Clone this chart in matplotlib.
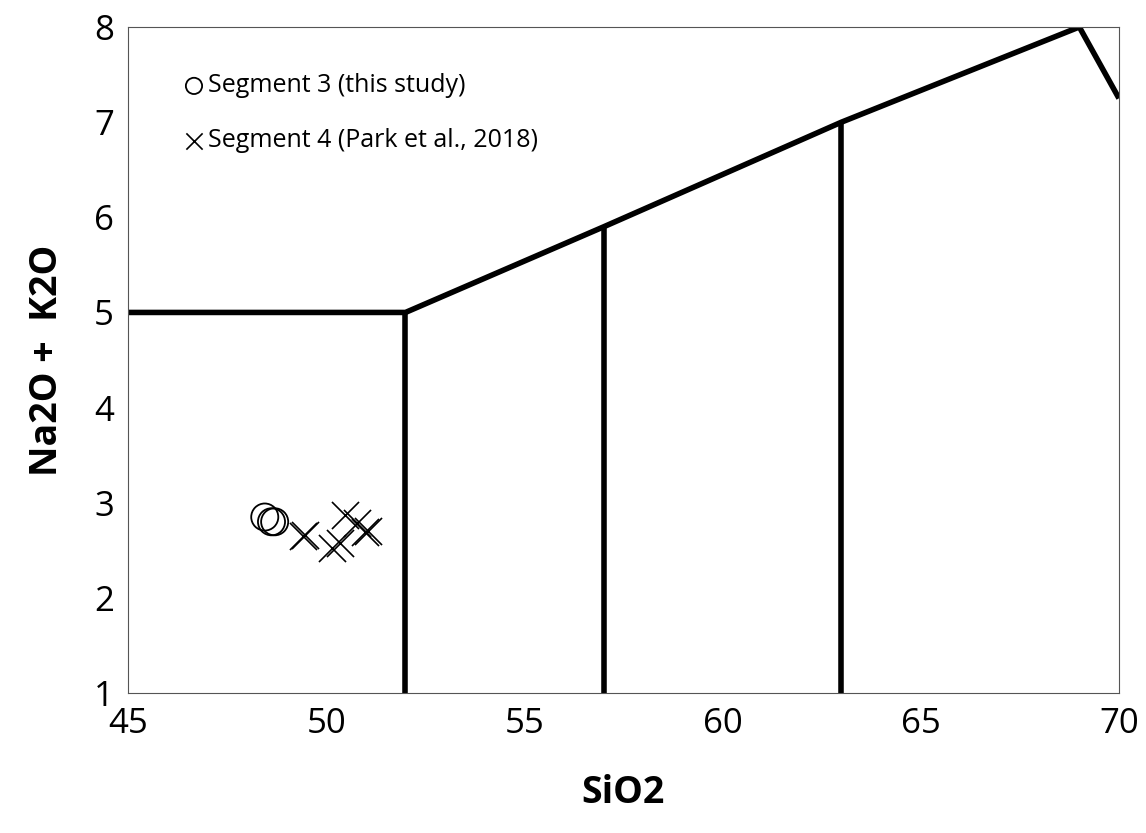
import matplotlib.pyplot as plt

# TAS boundary lines
bound_x = [45, 52, 57, 63, 69, 70]
bound_y = [5, 5, 5.9, 7, 8, 7.25]
vert_x = [52, 57, 63]
vert_top = [5, 5.9, 7]

# samples
seg3_sio2 = [48.45, 48.62, 48.70]
seg3_alk = [2.85, 2.80, 2.80]
seg4_sio2 = [49.41, 49.46, 50.47, 50.78, 50.15, 50.35, 50.98, 51.05]
seg4_alk = [2.65, 2.66, 2.87, 2.79, 2.52, 2.58, 2.69, 2.70]

plt.rcParams['font.family'] = ['Open Sans', 'DejaVu Sans']

fig = plt.figure(figsize=(11.46, 8.33), dpi=100)
ax = fig.add_axes([0.1117, 0.168, 0.8647, 0.7996])

ax.plot(bound_x, bound_y, color='black', lw=4, solid_capstyle='butt', zorder=2)
for x, top in zip(vert_x, vert_top):
    ax.plot([x, x], [1, top], color='black', lw=4, solid_capstyle='butt', zorder=2)

ax.scatter(seg3_sio2, seg3_alk, s=380, facecolors='none', edgecolors='black',
           linewidths=1.3, label='Segment 3 (this study)', zorder=3)
ax.scatter(seg4_sio2, seg4_alk, s=380, marker='x', color='black',
           linewidths=1.2, label='Segment 4 (Park et al., 2018)', zorder=3)

ax.set_xlim(45, 70)
ax.set_ylim(1, 8)
ax.set_xticks(range(45, 71, 5))
ax.set_yticks(range(1, 9))
ax.tick_params(length=0, labelsize=25, pad=10)
for s in ax.spines.values():
    s.set_linewidth(0.8)
    s.set_color('#555555')

ax.set_xlabel('SiO2', fontsize=27, fontweight='bold', labelpad=24)
ax.set_ylabel('Na2O +  K2O', fontsize=27, fontweight='bold', labelpad=20)

leg = ax.legend(loc='upper left', bbox_to_anchor=(0.03, 0.964), frameon=False,
                fontsize=18, markerscale=0.6, handletextpad=0.0,
                labelspacing=1.2, handlelength=1.1)

fig.savefig('out.png', dpi=100)
